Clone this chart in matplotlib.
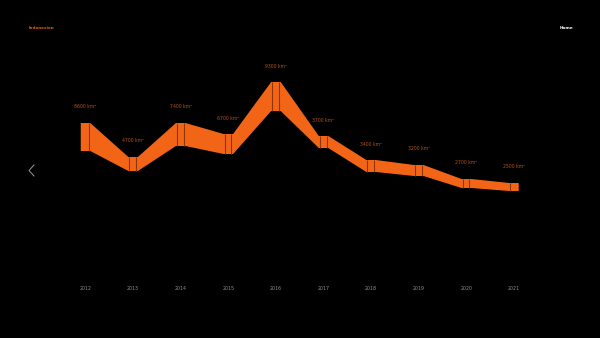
import numpy as np
import matplotlib; matplotlib.use("Agg")
import matplotlib.pyplot as plt

years = [2012, 2013, 2014, 2015, 2016, 2017, 2018, 2019, 2020, 2021]
labels = ["8600 km²", "4700 km²", "7400 km²", "6700 km²", "9300 km²",
          "3700 km²", "3400 km²", "3200 km²", "2700 km²", "2500 km²"]
# band edges (arbitrary vertical scale, 0..338)
upper = [215, 181, 215, 204, 256, 202, 178, 173, 159, 155]
lower = [187, 167, 192, 184, 227, 190, 166, 162, 150, 147]

ORANGE = "#f26517"
DARK = "#8f3405"
LABEL = "#b2541c"

fig = plt.figure(figsize=(6, 3.38), dpi=100, facecolor="black")
ax = fig.add_axes([0, 0, 1, 1], facecolor="black")
ax.set_xlim(2010.204, 2022.807)
ax.set_ylim(0, 338)
ax.axis("off")

h = 0.1  # half width of the year blocks
x = np.array(years, dtype=float)
top_x, top_y, bot_x, bot_y = [], [], [], []
for xi, u, l in zip(x, upper, lower):
    top_x += [xi - h, xi + h]; top_y += [u, u]
    bot_x += [xi - h, xi + h]; bot_y += [l, l]
ax.fill(top_x + bot_x[::-1], top_y + bot_y[::-1], color=ORANGE, lw=0)

for i, (xi, u, l) in enumerate(zip(x, upper, lower)):
    if i > 0:
        ax.plot([xi - 0.08, xi - 0.08], [l, u], color=DARK, lw=0.8, solid_capstyle="butt")
    if i < len(years) - 1:
        ax.plot([xi + 0.065, xi + 0.065], [l, u], color=DARK, lw=0.8, solid_capstyle="butt")
    ax.text(xi, u + 16, labels[i], ha="center", va="center", fontsize=3.3, color=LABEL)
    ax.text(xi, 50, str(years[i]), ha="center", va="center", fontsize=3.4, color="#8e8e8e")

fig.text(29 / 600, 1 - 28 / 338, "Indonesien", ha="left", va="center",
         fontsize=3.0, fontweight="bold", color="#e65a1a")
fig.text(573 / 600, 1 - 28 / 338, "Home", ha="right", va="center",
         fontsize=3.1, fontweight="bold", color="white")
# back chevron
fig.add_artist(plt.Line2D([34 / 600, 29 / 600, 34 / 600],
                          [1 - 165 / 338, 1 - 170.5 / 338, 1 - 176 / 338],
                          color="#9a9a9a", lw=0.7))

fig.savefig("out.png", dpi=100, facecolor="black")
